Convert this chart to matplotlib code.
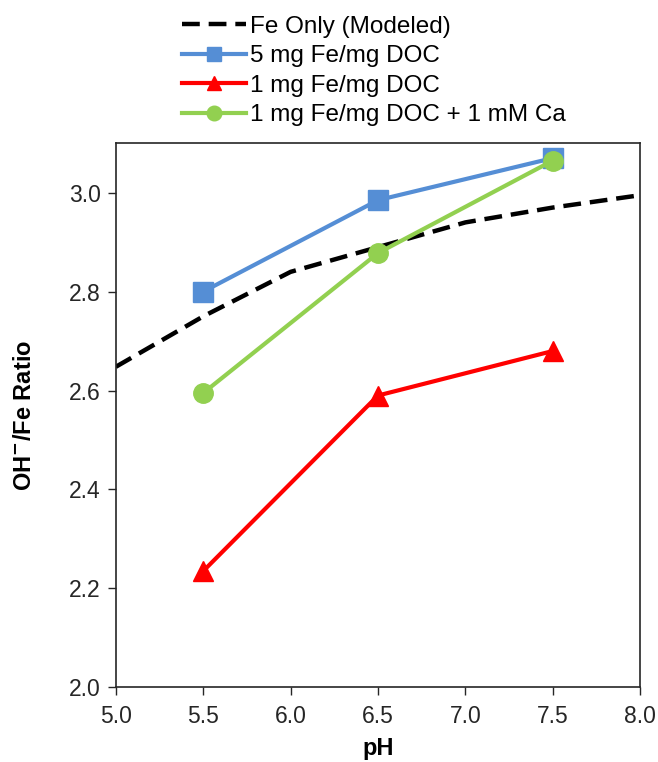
import matplotlib
matplotlib.use("Agg")
import matplotlib.pyplot as plt

plt.rcParams['font.family'] = ['Liberation Sans', 'DejaVu Sans']

# data
ph_model = [5.0, 5.5, 6.0, 6.5, 7.0, 7.5, 8.0]
fe_only = [2.648, 2.75, 2.84, 2.89, 2.94, 2.97, 2.995]

ph = [5.5, 6.5, 7.5]
fe5_doc = [2.80, 2.985, 3.07]
fe1_doc = [2.235, 2.59, 2.68]
fe1_doc_ca = [2.595, 2.878, 3.065]

labels = ['Fe Only (Modeled)', '5 mg Fe/mg DOC', '1 mg Fe/mg DOC',
          '1 mg Fe/mg DOC + 1 mM Ca']

fig = plt.figure(figsize=(6.58, 7.62), dpi=100)
ax = fig.add_axes([0.176, 0.098, 0.797, 0.714])

ax.plot(ph_model, fe_only, color='black', linestyle=(0, (4, 2)), linewidth=3.2,
        label=labels[0], zorder=2)
ax.plot(ph, fe5_doc, color='#558ED5', linewidth=3, marker='s', markersize=14,
        label=labels[1], zorder=3)
ax.plot(ph, fe1_doc, color='#FF0000', linewidth=3, marker='^', markersize=14,
        label=labels[2], zorder=3)
ax.plot(ph, fe1_doc_ca, color='#92D050', linewidth=3, marker='o', markersize=14,
        label=labels[3], zorder=4)

ax.set_xlim(5.0, 8.0)
ax.set_ylim(2.0, 3.1)
ax.set_xticks([5.0, 5.5, 6.0, 6.5, 7.0, 7.5, 8.0])
ax.set_yticks([2.0, 2.2, 2.4, 2.6, 2.8, 3.0])
ax.xaxis.set_major_formatter(matplotlib.ticker.FormatStrFormatter('%.1f'))
ax.yaxis.set_major_formatter(matplotlib.ticker.FormatStrFormatter('%.1f'))
ax.tick_params(axis='both', direction='out', length=6, width=1, labelsize=16.5,
               colors='#262626', labelcolor='#262626')
ax.tick_params(axis='x', pad=7)
ax.tick_params(axis='y', pad=5)
for s in ax.spines.values():
    s.set_linewidth(1.2)
    s.set_color('#262626')

ax.set_xlabel('pH', fontsize=17, fontweight='bold')
ax.xaxis.set_label_coords(0.5, -0.092)
ax.set_ylabel('OH$^{\\mathbf{-}}$/Fe Ratio', fontsize=17, fontweight='bold')
ax.yaxis.set_label_coords(-0.153, 0.5)

fig.legend(loc='upper left', bbox_to_anchor=(0.252, 1.0), frameon=False,
           fontsize=17.5, handlelength=2.65, handletextpad=0.15, labelspacing=0.31,
           borderaxespad=0.25, markerscale=0.75)

fig.savefig('out.png', dpi=100)
